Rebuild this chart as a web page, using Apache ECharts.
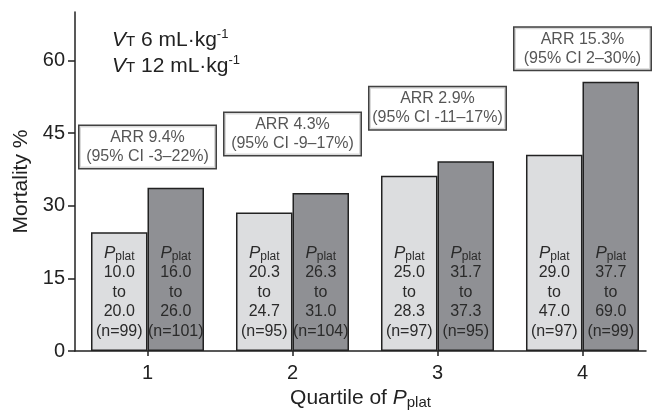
<!DOCTYPE html>
<html><head><meta charset="utf-8">
<script src="https://cdn.jsdelivr.net/npm/echarts@6/dist/echarts.min.js"></script>
<style>html,body{margin:0;padding:0;background:#fff}#c{width:655px;height:411px}</style>
</head><body><div id="c"></div>
<script>
const quartiles = [1, 2, 3, 4];
const seriesNames = ['VT 6 mL·kg-1', 'VT 12 mL·kg-1'];
const mortalityLow = [24.5, 28.6, 36.2, 40.5];
const mortalityHigh = [33.7, 32.6, 39.2, 55.6];
const pLow = [['10.0', '20.0'], ['20.3', '24.7'], ['25.0', '28.3'], ['29.0', '47.0']];
const pHigh = [['16.0', '26.0'], ['26.3', '31.0'], ['31.7', '37.3'], ['37.7', '69.0']];
const nLow = [99, 95, 97, 97];
const nHigh = [101, 104, 95, 99];
const arr = ['9.4', '4.3', '2.9', '15.3'];
const ci = ['-3–22', '-9–17', '-11–17', '2–30'];
const arrAnchor = [42.1, 44.8, 50.1, 62.4];
const yTicks = [0, 15, 30, 45, 60];

const FONT = '"Liberation Sans", Arial, sans-serif';
const INK = '#222';
const TXT = '#2a2a2a';

function barLabel(ranges, ns) {
  return {
    show: true, position: 'insideBottom', distance: 10,
    fontFamily: FONT, fontSize: 16, color: TXT, lineHeight: 19.5, align: 'center',
    formatter: p => `{p|P}{s|plat}\n${ranges[p.dataIndex][0]}\nto\n${ranges[p.dataIndex][1]}\n(n=${ns[p.dataIndex]})`,
    rich: {
      p: { fontFamily: FONT, fontStyle: 'italic', fontSize: 17, color: TXT, lineHeight: 19.5 },
      s: { fontFamily: FONT, fontSize: 12, color: TXT, verticalAlign: 'bottom', lineHeight: 17 }
    }
  };
}

const chart = echarts.init(document.getElementById('c'), null, { renderer: 'canvas' });
chart.setOption({
  animation: false,
  backgroundColor: '#fff',
  grid: { left: 75, right: 9, top: 12, bottom: 60, containLabel: false, outerBoundsMode: 'none' },
  legend: {
    show: true, orient: 'vertical', left: 102, top: 23, icon: 'none', itemWidth: 0, itemHeight: 10, itemGap: 2,
    data: seriesNames,
    formatter: name => {
      const i = seriesNames.indexOf(name);
      return `{v|V}{t|T}{r| ${i === 0 ? 6 : 12} mL·kg}{sup|-1}`;
    },
    textStyle: {
      fontFamily: FONT, fontSize: 21, color: INK, lineHeight: 24,
      rich: {
        v: { fontFamily: FONT, fontStyle: 'italic', fontSize: 21, color: INK, lineHeight: 24 },
        t: { fontFamily: FONT, fontSize: 15, color: INK, lineHeight: 24, verticalAlign: 'bottom', padding: [0, 0, 3, 0] },
        r: { fontFamily: FONT, fontSize: 21, color: INK, lineHeight: 24 },
        sup: { fontFamily: FONT, fontSize: 13, color: INK, verticalAlign: 'top', lineHeight: 13 }
      }
    }
  },
  xAxis: {
    type: 'value', min: 0.5, max: 4.438,
    name: '{a|Quartile of }{p|P}{s|plat}', nameLocation: 'middle', nameGap: 31,
    nameTextStyle: {
      fontFamily: FONT, fontSize: 21, color: INK,
      rich: {
        a: { fontFamily: FONT, fontSize: 21, color: INK, lineHeight: 24 },
        p: { fontFamily: FONT, fontSize: 21, fontStyle: 'italic', color: INK, lineHeight: 24 },
        s: { fontFamily: FONT, fontSize: 15, color: INK, verticalAlign: 'bottom', lineHeight: 20 }
      }
    },
    axisLine: { show: true, onZero: false, lineStyle: { color: INK, width: 1.5 } },
    axisTick: { show: true, length: 5, customValues: quartiles, lineStyle: { color: INK, width: 1.5 } },
    axisLabel: { customValues: quartiles, fontFamily: FONT, fontSize: 20, color: INK, margin: 12 },
    splitLine: { show: false }
  },
  yAxis: {
    type: 'value', min: 0, max: 70,
    name: 'Mortality %', nameLocation: 'middle', nameGap: 41,
    nameTextStyle: { fontFamily: FONT, fontSize: 21, color: INK },
    axisLine: { show: true, lineStyle: { color: INK, width: 1.5 } },
    axisTick: { show: true, length: 7, customValues: yTicks, lineStyle: { color: INK, width: 1.5 } },
    axisLabel: { customValues: yTicks, fontFamily: FONT, fontSize: 20, color: INK, margin: 10 },
    splitLine: { show: false }
  },
  series: [
    {
      name: seriesNames[0], type: 'bar', barWidth: 56.5, barGap: '0%',
      data: quartiles.map((q, i) => [q, mortalityLow[i]]),
      itemStyle: { color: '#dcdddf', borderColor: INK, borderWidth: 1.5 },
      label: barLabel(pLow, nLow)
    },
    {
      name: seriesNames[1], type: 'bar', barWidth: 56.5, barGap: '0%',
      data: quartiles.map((q, i) => [q, mortalityHigh[i]]),
      itemStyle: { color: '#8f9094', borderColor: INK, borderWidth: 1.5 },
      label: barLabel(pHigh, nHigh)
    },
    {
      name: 'ARR', type: 'scatter', symbolSize: 0, silent: true,
      data: quartiles.map((q, i) => [q, arrAnchor[i]]),
      label: {
        show: true, position: 'inside', width: 130, align: 'center',
        fontFamily: FONT, fontSize: 16, color: TXT, lineHeight: 19,
        backgroundColor: '#fff', borderColor: '#111', borderWidth: 1.5, padding: [2, 3, 2, 3],
        formatter: p => `ARR ${arr[p.dataIndex]}%\n(95% CI ${ci[p.dataIndex]}%)`
      }
    }
  ]
});
</script></body></html>
